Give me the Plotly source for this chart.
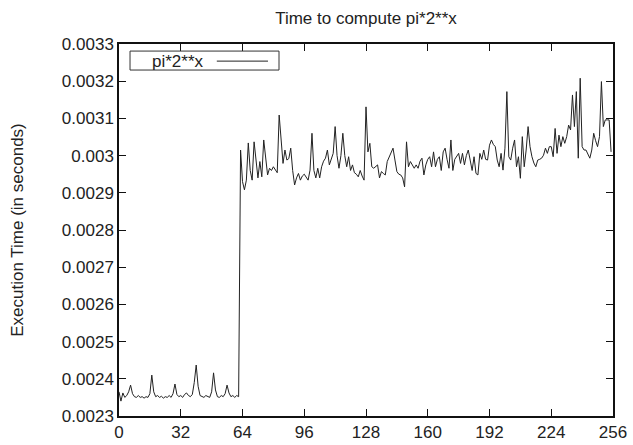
import plotly.graph_objects as go

x_values = list(range(256))

exec_time = [
    0.002365, 0.002340, 0.002362, 0.002350, 0.002355, 0.002365, 0.002383, 0.002360,
    0.002352, 0.002350, 0.002355, 0.002350, 0.002352, 0.002348, 0.002352, 0.002350,
    0.002360, 0.002410, 0.002365, 0.002352, 0.002355, 0.002350, 0.002353, 0.002348,
    0.002352, 0.002350, 0.002355, 0.002350, 0.002360, 0.002386, 0.002358, 0.002352,
    0.002355, 0.002350, 0.002358, 0.002362, 0.002355, 0.002352, 0.002358, 0.002390,
    0.002437, 0.002380, 0.002355, 0.002352, 0.002350, 0.002355, 0.002352, 0.002350,
    0.002365, 0.002416, 0.002370, 0.002352, 0.002350, 0.002355, 0.002352, 0.002360,
    0.002383, 0.002362, 0.002352, 0.002355, 0.002350, 0.002355, 0.002352, 0.003015,
    0.002930, 0.002908, 0.002934, 0.003034, 0.002960, 0.002934, 0.003037, 0.002990,
    0.002940, 0.002984, 0.002943, 0.003042, 0.002990, 0.002948, 0.002966, 0.002960,
    0.002970, 0.002962, 0.002954, 0.003109, 0.003030, 0.002979, 0.003015, 0.002988,
    0.002992, 0.003020, 0.002960, 0.002921, 0.002940, 0.002952, 0.002934, 0.002945,
    0.002950, 0.002940, 0.002934, 0.002961, 0.003060, 0.002960, 0.002940, 0.002966,
    0.002940, 0.002970, 0.002985, 0.002993, 0.003015, 0.002975, 0.002990, 0.003006,
    0.003078, 0.003000, 0.002966, 0.003000, 0.003060, 0.003000, 0.002970, 0.002997,
    0.002960, 0.002975, 0.002954, 0.002950, 0.002943, 0.002960, 0.002945, 0.002934,
    0.003131, 0.003010, 0.003033, 0.002970, 0.002966, 0.002972, 0.002975, 0.002940,
    0.002957, 0.002952, 0.002948, 0.002984, 0.002997, 0.003008, 0.003020, 0.002988,
    0.002957, 0.002950, 0.002948, 0.002940, 0.002916, 0.003037, 0.002970, 0.002984,
    0.002975, 0.002966, 0.002975, 0.002966, 0.002985, 0.002993, 0.002948, 0.002975,
    0.002990, 0.002997, 0.002970, 0.003010, 0.002970, 0.002990, 0.002997, 0.002960,
    0.003010, 0.003020, 0.002990, 0.002966, 0.003042, 0.002960, 0.002990, 0.002997,
    0.003006, 0.002979, 0.003006, 0.002975, 0.003000, 0.003015, 0.002988, 0.002960,
    0.002997, 0.002952, 0.002948, 0.003006, 0.002990, 0.003015, 0.002990, 0.002988,
    0.003028, 0.003042, 0.003030, 0.003024, 0.002988, 0.002970, 0.003006, 0.002961,
    0.003020, 0.003172, 0.002997, 0.002988, 0.003020, 0.003042, 0.002970, 0.002997,
    0.002939, 0.003051, 0.002970, 0.003015, 0.003078, 0.003024, 0.002997, 0.002980,
    0.002970, 0.002988, 0.002990, 0.002993, 0.003001, 0.003020, 0.003006, 0.003024,
    0.003024, 0.002997, 0.003073, 0.003006, 0.003055, 0.003024, 0.003051, 0.003033,
    0.003051, 0.003082, 0.003069, 0.003163, 0.003078, 0.003172, 0.002993, 0.003208,
    0.003024, 0.003015, 0.003015, 0.003006, 0.002993, 0.003015, 0.003060, 0.003040,
    0.003024, 0.003051, 0.003199, 0.003078, 0.003096, 0.003096, 0.003096, 0.003010,
]

x_ticks = [0, 32, 64, 96, 128, 160, 192, 224, 256]
y_ticks = [0.0023, 0.0024, 0.0025, 0.0026, 0.0027, 0.0028, 0.0029, 0.003, 0.0031, 0.0032, 0.0033]
y_tick_text = ["0.0023", "0.0024", "0.0025", "0.0026", "0.0027", "0.0028", "0.0029",
               "0.003", "0.0031", "0.0032", "0.0033"]

series_name = "pi*2**x"
title_text = "Time to compute pi*2**x"
y_title = "Execution Time (in seconds)"

FONT = "Liberation Sans, Arial, sans-serif"

fig = go.Figure()
fig.add_trace(go.Scatter(
    x=x_values, y=exec_time, mode="lines", name=series_name,
    line=dict(color="#222222", width=1), showlegend=False,
))

axis_common = dict(
    showgrid=False, zeroline=False, showline=True, linecolor="#111111", linewidth=1.5,
    mirror="ticks", ticks="inside", ticklen=7, tickwidth=1, tickcolor="#111111",
    tickfont=dict(family=FONT, size=17, color="#222222"), automargin=False,
)

fig.update_xaxes(range=[0, 256], tickvals=x_ticks, **axis_common)
fig.update_yaxes(range=[0.0023, 0.0033], tickvals=y_ticks, ticktext=y_tick_text,
                 title=dict(text=y_title, font=dict(family=FONT, size=17, color="#222222"),
                            standoff=34),
                 **axis_common)

# legend box drawn gnuplot-style (label left, line sample right)
fig.add_shape(type="rect", xref="paper", yref="paper", x0=0.0223, x1=0.3239, y0=0.930, y1=0.981,
              line=dict(color="#333333", width=1), fillcolor="white")
fig.add_shape(type="line", xref="paper", yref="paper", x0=0.198, x1=0.3016, y0=0.954, y1=0.954,
              line=dict(color="#222222", width=1))
fig.add_annotation(xref="paper", yref="paper", x=0.176, y=0.954, text=series_name,
                   showarrow=False, xanchor="right", yanchor="middle",
                   font=dict(family=FONT, size=17, color="#222222"))

fig.update_layout(
    width=633, height=445,
    margin=dict(l=119, r=20, t=44, b=29),
    paper_bgcolor="white", plot_bgcolor="white",
    title=dict(text=title_text, x=(119 + 613) / 2 / 633, xanchor="center", y=1 - 18 / 445,
               yanchor="middle", font=dict(family=FONT, size=17, color="#222222")),
    font=dict(family=FONT, size=17, color="#222222"),
)

fig.write_html("out.html", config={"displayModeBar": False},
               post_script="document.body.style.margin='0';document.body.style.overflow='hidden';")
